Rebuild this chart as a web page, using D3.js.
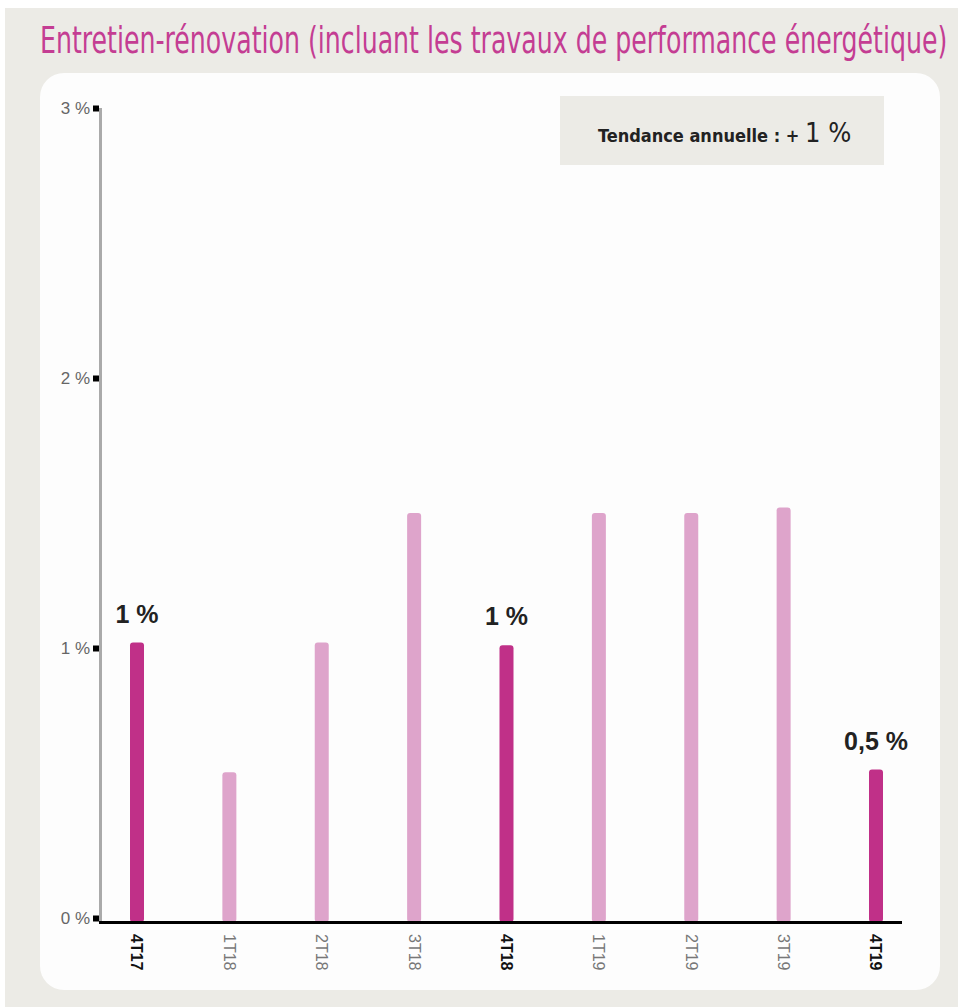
<!DOCTYPE html>
<meta charset="utf-8">
<style>
body { margin: 0; background: #fff; }
text { font-family: 'Liberation Sans', Arial, sans-serif; }
.narrow { font-family: 'Liberation Sans Narrow', 'DejaVu Sans Condensed', sans-serif; }
</style>
<svg width="958" height="1007"></svg>
<script src="https://d3js.org/d3.v7.min.js"></script>
<script>
var quarters = ["4T17", "1T18", "2T18", "3T18", "4T18", "1T19", "2T19", "3T19", "4T19"];
var values = [1.02, 0.54, 1.02, 1.5, 1.01, 1.5, 1.5, 1.52, 0.55];
var highlighted = ["4T17", "4T18", "4T19"];
var barLabels = { "4T17": "1 %", "4T18": "1 %", "4T19": "0,5 %" };
var yTicks = [0, 1, 2, 3];

var svg = d3.select("svg");

// background and panel
svg.append("rect").attr("x", 5).attr("y", 8).attr("width", 953).attr("height", 999)
	.attr("fill", "#ecebe6");
svg.append("rect").attr("x", 40).attr("y", 73).attr("width", 900).attr("height", 917)
	.attr("rx", 24).attr("fill", "#fdfdfd");

// title, squeezed horizontally to fit 40..950
var title = svg.append("text")
	.attr("class", "narrow")
	.attr("x", 0).attr("y", 0)
	.style("font-size", "38px")
	.attr("fill", "#c43d93")
	.text("Entretien-rénovation (incluant les travaux de performance énergétique)");
var tw = title.node().getComputedTextLength();
title.attr("transform", "translate(40,53) scale(" + (908 / tw) + ",1)");

// trend box
svg.append("rect").attr("x", 560).attr("y", 96).attr("width", 324).attr("height", 69)
	.attr("fill", "#ecebe6");
var trend = svg.append("text").attr("class", "narrow")
	.attr("x", 598).attr("y", 142).attr("fill", "#222");
trend.append("tspan").style("font-size", "18px").style("font-weight", "bold")
	.text("Tendance annuelle : + ");
trend.append("tspan").style("font-size", "27px").text("1 %");

var x = d3.scalePoint().domain(quarters).range([137, 876]);
var y = d3.scaleLinear().domain([0, 3]).range([918, 108]);

// y axis grey line
svg.append("line").attr("x1", 100.5).attr("x2", 100.5)
	.attr("y1", y(3)).attr("y2", 922)
	.attr("stroke", "#aaa").attr("stroke-width", 3);

var yAxis = svg.append("g")
	.attr("transform", "translate(99,0)")
	.call(d3.axisLeft(y).tickValues(yTicks).tickSize(6).tickPadding(3)
		.tickFormat(function(d) { return d + " %"; }));
yAxis.select(".domain").remove();
yAxis.selectAll(".tick line").attr("stroke", "#000").attr("stroke-width", 6);
yAxis.selectAll(".tick text")
	.style("font-size", "17px").style("font-family", "'Liberation Sans', Arial, sans-serif")
	.attr("fill", "#666");

// bars
svg.append("g").selectAll("rect")
	.data(quarters)
	.enter().append("rect")
	.attr("x", function(d) { return x(d) - 7; })
	.attr("width", 14)
	.attr("y", function(d, i) { return y(values[i]); })
	.attr("height", function(d, i) { return y(0) + 4 - y(values[i]); })
	.attr("rx", 3)
	.attr("fill", function(d) { return highlighted.indexOf(d) != -1 ? "#c03088" : "#dea4cb"; });

// value labels
svg.append("g").selectAll("text")
	.data(quarters.filter(function(d) { return barLabels[d]; }))
	.enter().append("text")
	.attr("x", function(d) { return x(d); })
	.attr("y", function(d) { return y(values[quarters.indexOf(d)]) - 20; })
	.attr("text-anchor", "middle")
	.style("font-size", "25px").style("font-weight", "bold")
	.attr("fill", "#222")
	.text(function(d) { return barLabels[d]; });

// x axis
var xAxis = svg.append("g")
	.attr("transform", "translate(0,922.5)")
	.call(d3.axisBottom(x).tickSize(0).tickFormat(""));
xAxis.select(".domain")
	.attr("d", "M99,0H902")
	.attr("stroke", "#000").attr("stroke-width", 3);

svg.append("g").selectAll("text")
	.data(quarters)
	.enter().append("text")
	.attr("transform", function(d) { return "translate(" + x(d) + ",934) rotate(90)"; })
	.attr("dy", "0.35em")
	.style("font-size", "16px")
	.style("font-weight", function(d) { return highlighted.indexOf(d) != -1 ? "bold" : "normal"; })
	.attr("fill", function(d) { return highlighted.indexOf(d) != -1 ? "#111" : "#777"; })
	.text(function(d) { return d; });
</script>
